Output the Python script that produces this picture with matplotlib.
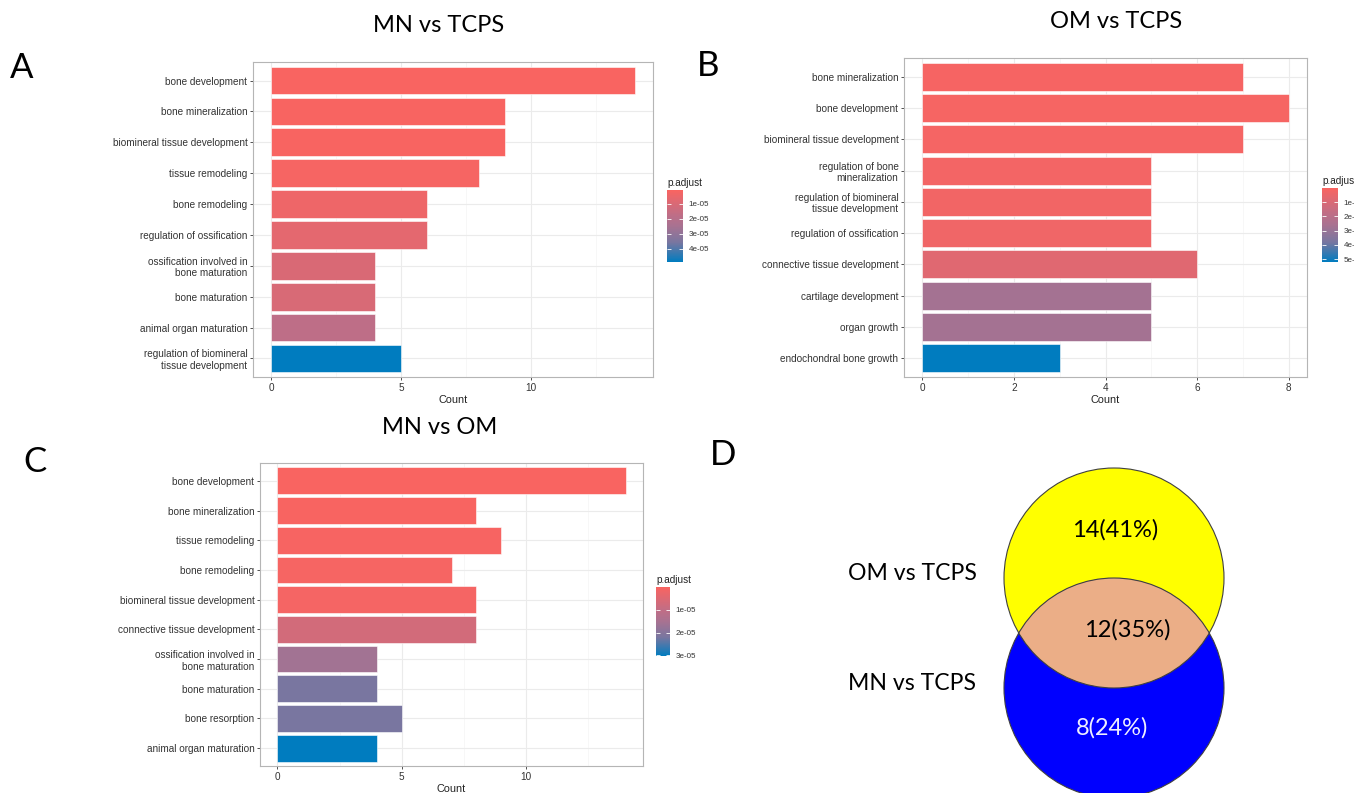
import matplotlib
matplotlib.use("Agg")
import matplotlib.pyplot as plt
import numpy as np
from matplotlib.colors import LinearSegmentedColormap, Normalize
from matplotlib.cm import ScalarMappable
from matplotlib.patches import Circle

plt.rcParams["font.family"] = ["Liberation Sans", "DejaVu Sans"]

# ---- data ----
# A: MN vs TCPS
termsA = ["bone development", "bone mineralization", "biomineral tissue development",
          "tissue remodeling", "bone remodeling", "regulation of ossification",
          "ossification involved in\nbone maturation", "bone maturation",
          "animal organ maturation", "regulation of biomineral\ntissue development"]
countA = [14, 9, 9, 8, 6, 6, 4, 4, 4, 5]
padjA = [1.0e-6, 1.2e-6, 1.2e-6, 2.0e-6, 4.0e-6, 7.0e-6, 1.0e-5, 1.05e-5, 1.8e-5, 4.9e-5]
cbar_ticksA = [1e-5, 2e-5, 3e-5, 4e-5]

# B: OM vs TCPS
termsB = ["bone mineralization", "bone development", "biomineral tissue development",
          "regulation of bone\nmineralization", "regulation of biomineral\ntissue development",
          "regulation of ossification", "connective tissue development",
          "cartilage development", "organ growth", "endochondral bone growth"]
countB = [7, 8, 7, 5, 5, 5, 6, 5, 5, 3]
padjB = [1.0e-6, 1.2e-6, 1.5e-6, 2.0e-6, 2.2e-6, 3.0e-6, 8.0e-6, 2.7e-5, 2.7e-5, 5.2e-5]
cbar_ticksB = [1e-5, 2e-5, 3e-5, 4e-5, 5e-5]

# C: MN vs OM
termsC = ["bone development", "bone mineralization", "tissue remodeling", "bone remodeling",
          "biomineral tissue development", "connective tissue development",
          "ossification involved in\nbone maturation", "bone maturation",
          "bone resorption", "animal organ maturation"]
countC = [14, 8, 9, 7, 8, 8, 4, 4, 5, 4]
padjC = [1e-7, 2e-7, 4e-7, 6e-7, 8e-7, 7.0e-6, 1.6e-5, 2.2e-5, 2.2e-5, 3.03e-5]
cbar_ticksC = [1e-5, 2e-5, 3e-5]

# D: venn
venn_sets = ["OM vs TCPS", "MN vs TCPS"]
venn_labels = ["14(41%)", "12(35%)", "8(24%)"]

W, H = 1354, 793
cmap = LinearSegmentedColormap.from_list(
    "padj", [(0, "#F96461"), (0.35, "#BE6E87"), (0.5, "#A87291"),
             (0.73, "#7876A0"), (1, "#007CBF")])

fig = plt.figure(figsize=(W / 100, H / 100), dpi=100)


def px_axes(x0, y0, x1, y1):
    # pixel box (top-left origin) -> figure axes
    return fig.add_axes([x0 / W, 1 - y1 / H, (x1 - x0) / W, (y1 - y0) / H])


def go_bar(ax, cax, terms, counts, padj, vmin, vmax, cticks, xticks, xmax):
    norm = Normalize(vmin, vmax)
    n = len(terms)
    y = np.arange(n, 0, -1)
    ax.barh(y, counts, height=0.9, color=cmap(norm(np.array(padj))),
            edgecolor="white", linewidth=0.4, zorder=3)
    ax.set_yticks(y)
    ax.set_yticklabels(terms)
    ax.set_ylim(0.4, n + 0.6)
    ax.set_xlim(-0.05 * xmax, 1.05 * xmax)
    ax.set_xticks(xticks)
    mids = [(a + b) / 2 for a, b in zip(xticks[:-1], xticks[1:])]
    mids.append(xticks[-1] + (xticks[1] - xticks[0]) / 2)
    ax.set_xticks([m for m in mids if m < 1.05 * xmax], minor=True)
    ax.grid(which="major", color="#EBEBEB", lw=0.8, zorder=0)
    ax.grid(which="minor", axis="x", color="#F4F4F4", lw=0.5, zorder=0)
    ax.tick_params(axis="both", which="major", labelsize=7.2, colors="#333333",
                   length=2.5, width=0.6, pad=1.5)
    ax.tick_params(axis="both", which="minor", length=0)
    for s in ax.spines.values():
        s.set_color("#B5B5B5")
        s.set_linewidth(0.8)
    ax.set_xlabel("Count", fontsize=7.8, color="#222222", labelpad=1.5)

    sm = ScalarMappable(norm=norm, cmap=cmap)
    cb = fig.colorbar(sm, cax=cax)
    cax.invert_yaxis()
    cb.set_ticks(cticks)
    cb.ax.set_yticklabels(["%de-05" % round(t * 1e5) for t in cticks])
    cb.outline.set_visible(False)
    cax.tick_params(direction="in", color="white", length=3, width=0.6,
                    labelsize=5.8, pad=4, left=True, right=True,
                    labelcolor="#333333")
    cax.set_title("p.adjust", fontsize=7.2, loc="left", pad=3, color="#222222")


axA = px_axes(253, 62, 653, 377)
caxA = px_axes(667, 190, 683, 262)
go_bar(axA, caxA, termsA, countA, padjA, 1e-6, 4.9e-5, cbar_ticksA, [0, 5, 10], 14)

axB = px_axes(904, 58, 1307, 377)
caxB = px_axes(1322, 188, 1338, 262)
go_bar(axB, caxB, termsB, countB, padjB, 1e-7, 5.2e-5, cbar_ticksB, [0, 2, 4, 6, 8], 8)

axC = px_axes(260, 463, 643, 766)
caxC = px_axes(656, 587, 670, 656)
go_bar(axC, caxC, termsC, countC, padjC, 0, 3.03e-5, cbar_ticksC, [0, 5, 10], 14)

# overlay for titles, letters, venn
ov = fig.add_axes([0, 0, 1, 1])
ov.set_xlim(0, W)
ov.set_ylim(H, 0)
ov.axis("off")
ov.patch.set_alpha(0)

tfont = ["Lato", "DejaVu Sans"]
ov.text(439, 26, "MN vs TCPS", fontsize=17, family=tfont, ha="center", va="center")
ov.text(1116, 21, "OM vs TCPS", fontsize=17, family=tfont, ha="center", va="center")
ov.text(440, 428, "MN vs OM", fontsize=17, family=tfont, ha="center", va="center")

for lab, x, y in [("A", 22, 68), ("B", 708, 66), ("C", 35, 462), ("D", 723, 455)]:
    ov.text(x, y, lab, fontsize=25, family=tfont, ha="center", va="center")

cx, r = 1114, 110
top_c = Circle((cx, 578), r, facecolor="#FFFF00", edgecolor="none", zorder=1)
bot_c = Circle((cx, 688), r, facecolor="#0000FF", edgecolor="none", zorder=1)
ov.add_patch(top_c)
ov.add_patch(bot_c)
inter = Circle((cx, 578), r, facecolor="#EBAE87", edgecolor="none", zorder=2)
ov.add_patch(inter)
inter.set_clip_path(Circle((cx, 688), r, transform=ov.transData))
for cy in (578, 688):
    ov.add_patch(Circle((cx, cy), r, facecolor="none", edgecolor="#404040",
                        lw=0.8, zorder=3))

ov.text(912, 573, venn_sets[0], fontsize=16.6, family=tfont, ha="center", va="center")
ov.text(912, 683, venn_sets[1], fontsize=16.6, family=tfont, ha="center", va="center")
ov.text(1115, 530, venn_labels[0], fontsize=17, family=tfont, ha="center", va="center", zorder=4)
ov.text(1127, 630, venn_labels[1], fontsize=17, family=tfont, ha="center", va="center", zorder=4)
ov.text(1112, 728, venn_labels[2], fontsize=17, family=tfont, ha="center", va="center",
        color="#EEEEFF", zorder=4)

fig.savefig("out.png", dpi=100)
